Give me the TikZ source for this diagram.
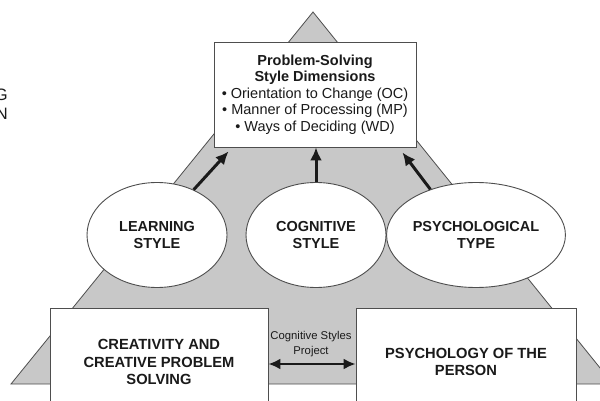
\documentclass[tikz,border=0pt]{standalone}
\usepackage{fontspec}
\setmainfont{Liberation Sans}
\usetikzlibrary{arrows.meta,calc,shapes.geometric}
\definecolor{trifill}{HTML}{C8C8C8}
\definecolor{edgecol}{HTML}{4E4E4E}
\definecolor{inkcol}{HTML}{1A1A1A}
\begin{document}
\begin{tikzpicture}[x=1pt,y=-1pt,
  boxstyle/.style={draw=edgecol, fill=white, line width=0.9pt, inner sep=0pt, align=center, text=inkcol},
  ovalstyle/.style={ellipse, draw=edgecol, fill=white, line width=0.9pt, inner sep=0pt,
    minimum width=140pt, minimum height=105pt, align=center, text=inkcol,
    font=\fontsize{14.5}{17}\selectfont\bfseries},
  bigtext/.style={font=\fontsize{14.7}{17.5}\selectfont\bfseries},
  arrowstyle/.style={line width=3pt, inkcol, -{Latex[length=13pt,width=12pt]}},
  dblarrow/.style={line width=2.2pt, inkcol, {Latex[length=12pt,width=11pt]}-{Latex[length=12pt,width=11pt]}}
]
\clip (0,0) rectangle (600,401);
\fill[white] (0,0) rectangle (600,401);

% triangle
\coordinate (apex) at (313,12);
\coordinate (bl) at (11,384);
\coordinate (br) at (613,384);
\draw[edgecol, fill=trifill, line width=0.8pt, line join=miter] (bl) -- (apex) -- (br) -- cycle;

% cut-off title fragment
\node[anchor=east, align=right, inner sep=0pt, text=inkcol,
  font=\fontsize{16.5}{19}\selectfont] (cut) at (8,104) {G\\N};

% top box
\node[boxstyle, minimum width=202pt, minimum height=105pt,
  font=\fontsize{14.5}{16.5}\selectfont] (dims) at (315,94.5)
  {\textbf{Problem-Solving}\\\textbf{Style Dimensions}\\%
   • Orientation to Change (OC)\\• Manner of Processing (MP)\\• Ways of Deciding (WD)};

% ellipses
\node[ovalstyle] (learn) at (157,235) {LEARNING\\STYLE};
\node[ovalstyle] (cog) at (316,235) {COGNITIVE\\STYLE};
\node[ovalstyle, minimum width=138pt] (psy) at (476,235) {PSYCHOLOGICAL\\TYPE};

% arrows to top box
\draw[arrowstyle] (learn.51) -- ($(dims.south west)+(15,4)$);
\draw[arrowstyle] (cog.north) -- (cog.north |- dims.south);
\draw[arrowstyle] (psy.135) -- ($(dims.south east)+(-14,5)$);

% bottom boxes
\node[boxstyle, bigtext, minimum width=218pt, minimum height=108pt] (crea) at (159,362)
  {CREATIVITY AND\\CREATIVE PROBLEM\\SOLVING};
\node[boxstyle, bigtext, minimum width=220pt, minimum height=108pt] (pers) at (466,362)
  {PSYCHOLOGY OF THE\\PERSON};

% double arrow and label
\draw[dblarrow] ($(crea.east)+(0,2)$) -- ($(pers.west)+(0,2)$);
\node[align=center, inner sep=0pt, text=inkcol, font=\fontsize{11.3}{15.5}\selectfont] (proj) at (311,344)
  {Cognitive Styles\\Project};
\end{tikzpicture}
\end{document}
